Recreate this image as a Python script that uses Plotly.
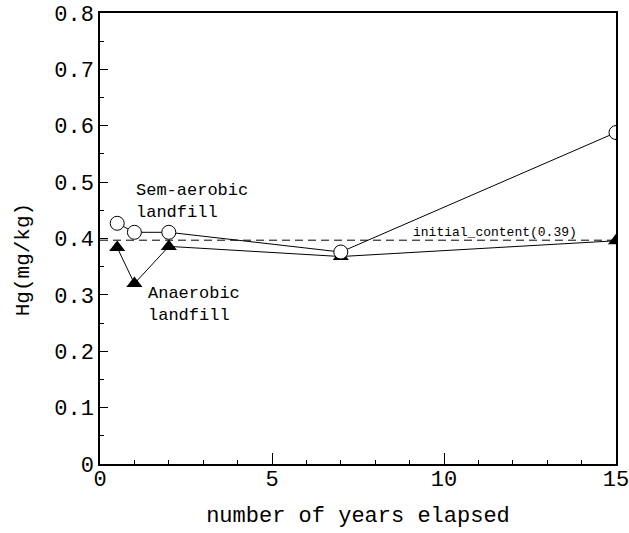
import plotly.graph_objects as go

years = [0.5, 1, 2, 7, 15]
semi_aerobic = [0.427, 0.411, 0.411, 0.376, 0.588]
anaerobic = [0.384, 0.320, 0.386, 0.368, 0.396]
initial_x = [0, 15]
initial_level = [0.397, 0.397]

FONT = "Liberation Mono"

fig = go.Figure()
fig.add_trace(go.Scatter(x=initial_x, y=initial_level, mode="lines",
                         line=dict(color="black", width=1, dash="8px,5px"),
                         showlegend=False, hoverinfo="skip"))
fig.add_trace(go.Scatter(x=years, y=anaerobic, mode="lines+markers",
                         line=dict(color="black", width=1),
                         marker=dict(symbol="triangle-up", size=14, color="black"),
                         showlegend=False))
fig.add_trace(go.Scatter(x=years, y=semi_aerobic, mode="lines+markers",
                         line=dict(color="black", width=1),
                         marker=dict(symbol="circle", size=14, color="white",
                                     line=dict(color="black", width=1)),
                         showlegend=False))

fig.add_annotation(x=1.0, y=0.465, xref="x", yref="y", xanchor="left", yanchor="middle",
                   text="Sem-aerobic<br>landfill", showarrow=False, align="left",
                   font=dict(family=FONT, size=17, color="black"))
fig.add_annotation(x=1.35, y=0.283, xref="x", yref="y", xanchor="left", yanchor="middle",
                   text="Anaerobic<br>landfill", showarrow=False, align="left",
                   font=dict(family=FONT, size=17, color="black"))
fig.add_annotation(x=9.03, y=0.41, xref="x", yref="y", xanchor="left", yanchor="middle",
                   text="initial_content(0.39)", showarrow=False,
                   font=dict(family=FONT, size=13, color="black"))
fig.add_annotation(x=-0.149, y=0.452, xref="paper", yref="paper", xanchor="center", yanchor="middle",
                   text="Hg(mg/kg)", textangle=-90, showarrow=False,
                   font=dict(family=FONT, size=21, color="black"))

fig.update_layout(
    width=629, height=533,
    margin=dict(l=100, r=13, t=13, b=69, autoexpand=False),
    plot_bgcolor="white", paper_bgcolor="white",
    font=dict(family=FONT, size=22, color="black"),
    xaxis=dict(range=[0, 15], tickvals=[0, 5, 10, 15], ticktext=["0", "5", "10", "15"],
               ticks="inside", ticklen=11, tickwidth=1, tickcolor="black",
               ticklabelstandoff=-6, automargin=False, ticklabeloverflow="allow",
               minor=dict(dtick=1, ticks="inside", ticklen=4, tickcolor="black"),
               showline=True, linecolor="black", linewidth=1.5, mirror=True,
               showgrid=False, zeroline=False,
               title=dict(text="number of years elapsed", standoff=14,
                          font=dict(family=FONT, size=22))),
    yaxis=dict(range=[0, 0.8], tickvals=[0, 0.1, 0.2, 0.3, 0.4, 0.5, 0.6, 0.7, 0.8],
               ticktext=["0", "0.1", "0.2", "0.3", "0.4", "0.5", "0.6", "0.7", "0.8"],
               ticks="inside", ticklen=8, tickwidth=1, tickcolor="black",
               automargin=False, ticklabeloverflow="allow",
               minor=dict(dtick=0.05, ticks="inside", ticklen=4, tickcolor="black"),
               showline=True, linecolor="black", linewidth=1.5, mirror=True,
               showgrid=False, zeroline=False),
)

fig.write_html("out.html", config={"displayModeBar": False},
               post_script="document.body.style.margin='0px';")
